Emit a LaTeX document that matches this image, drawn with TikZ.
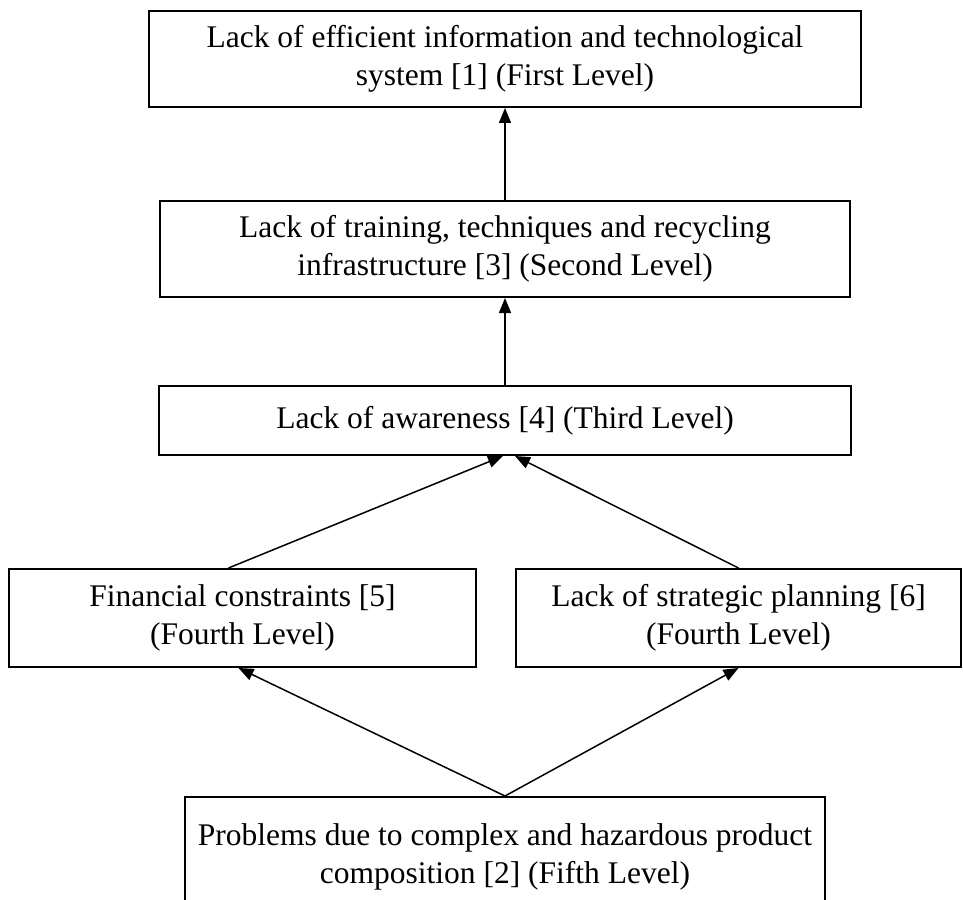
\documentclass[tikz,border=0pt]{standalone}
\usepackage{fontspec}
\setmainfont{Liberation Serif}
\usetikzlibrary{arrows.meta}

\begin{document}
\begin{tikzpicture}[x=0.5pt, y=-0.5pt,
  level/.style={draw=black, line width=1pt, align=center, inner sep=0pt,
    font=\fontsize{15.75}{19}\selectfont},
  up/.style={-{Triangle[length=7.5pt, width=6pt]}, line width=0.75pt}]
\useasboundingbox (0,0) rectangle (963,899);
% levels, top to bottom
\node[level, minimum width=356pt, minimum height=48pt] (first) at (505,59)
  {Lack of efficient information and technological\\system [1] (First Level)};
\node[level, minimum width=345pt, minimum height=48pt] (second) at (505,249)
  {Lack of training, techniques and recycling\\infrastructure [3] (Second Level)};
\node[level, minimum width=346pt, minimum height=34.5pt] (third) at (505,420.5)
  {Lack of awareness [4] (Third Level)};
\node[level, minimum width=233.5pt, minimum height=49pt] (finance) at (242.5,618)
  {Financial constraints [5]\\(Fourth Level)};
\node[level, minimum width=222.5pt, minimum height=49pt] (planning) at (738.5,618)
  {Lack of strategic planning [6]\\(Fourth Level)};
\node[level, minimum width=320pt, minimum height=60pt] (problems) at (505,857)
  {Problems due to complex and hazardous product\\composition [2] (Fifth Level)};
% arrows
\draw[up] (second) -- (first);
\draw[up] (third) -- (second);
\draw[up] ([xshift=-7pt]finance.north) -- ([xshift=-1pt]third.south);
\draw[up] (planning.north) -- ([xshift=5pt]third.south);
\draw[up] (problems.north) -- ([xshift=-2pt]finance.south);
\draw[up] (problems.north) -- (planning.south);
\end{tikzpicture}
\end{document}
